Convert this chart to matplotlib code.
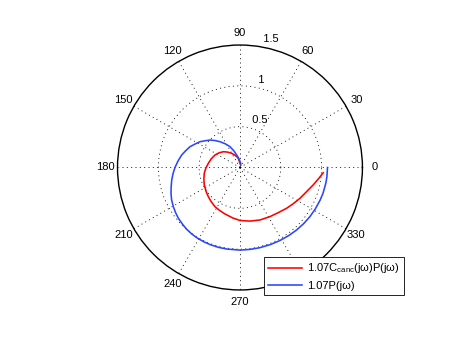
import numpy as np
import matplotlib
matplotlib.use("Agg")
import matplotlib.pyplot as plt

plt.rcParams["font.family"] = ["Liberation Sans", "DejaVu Sans"]
plt.rcParams["mathtext.fontset"] = "custom"
plt.rcParams["mathtext.rm"] = "Liberation Sans"

# 1.07 P(jw): angle (deg) and magnitude
p_ang = [0, -6, -10.4, -17.2, -22.1, -28.9, -35.1, -41.4, -47.8, -54.1, -61.1,
         -68.7, -76.1, -83, -90, -99.3, -105, -111.2, -116, -121.5, -126, -130.5,
         -135, -140.5, -145, -149.6, -155, -159.5, -164, -169.6, -175, -180,
         -186, -192.1, -197, -202.6, -207, -212.8, -217, -222.5, -227, -232.2,
         -238, -244.3, -250, -255.2, -265, -283]
p_mag = [1.072, 1.071, 1.069, 1.065, 1.060, 1.053, 1.047, 1.040, 1.033, 1.026, 1.020,
         1.015, 1.012, 1.011, 1.012, 1.012, 1.013, 1.013, 1.012, 1.010, 1.006, 1.000,
         0.990, 0.978, 0.963, 0.947, 0.925, 0.902, 0.877, 0.850, 0.822, 0.796,
         0.763, 0.730, 0.697, 0.663, 0.625, 0.583, 0.542, 0.498, 0.452, 0.400,
         0.343, 0.283, 0.215, 0.158, 0.100, 0.045]

# 1.07 C_canc(jw) P(jw)
c_ang = [-3.6, -8.4, -13.4, -19.9, -27.2, -34.2, -41.1, -49.7, -58.6, -69.1,
         -79.4, -90, -98, -107.9, -115, -122.5, -130, -137.4, -145, -153.9,
         -162, -170.8, -179, -187.5, -197, -206.6, -215, -223.4, -231, -239.7,
         -249, -259.5, -286]
c_mag = [1.022, 0.969, 0.922, 0.868, 0.826, 0.789, 0.759, 0.725, 0.705, 0.688,
         0.668, 0.649, 0.625, 0.598, 0.583, 0.569, 0.548, 0.527, 0.508, 0.487,
         0.465, 0.443, 0.418, 0.391, 0.367, 0.342, 0.313, 0.281, 0.243, 0.201,
         0.158, 0.115, 0.03]

theta_ticks = list(range(0, 360, 30))
r_ticks = [0.5, 1.0, 1.5]
r_max = 1.5

fig = plt.figure(figsize=(4.63, 3.48), dpi=100)
ax = fig.add_axes([0.2538, 0.1667, 0.529, 0.704], projection="polar")

dots = (0, (1.2, 4))
ax.plot(np.deg2rad(c_ang), c_mag, color="#ff0000", lw=1.15,
        label=r"1.07C$_{\rm canc}$(jω)P(jω)")
ax.plot(np.deg2rad(p_ang), p_mag, color="#2a46ff", lw=1.15, label="1.07P(jω)")

ax.set_ylim(0, r_max)
ax.set_thetagrids(theta_ticks, labels=[str(t) for t in theta_ticks], fontsize=8)
ax.set_rgrids(r_ticks[:-1], labels=["", ""])
ax.grid(True, color="k", lw=0.6, linestyle=dots)
ax.tick_params(axis="x", pad=1.5, size=0)
ax.spines["polar"].set_linewidth(1.0)
ax.spines["polar"].set_color("k")

# radial labels, placed like the MATLAB polar plot (at 82 deg)
for r in r_ticks:
    ax.text(np.deg2rad(82), r + 0.025, "  " + f"{r:g}", fontsize=8,
            ha="left", va="bottom")

leg = ax.legend(loc="upper left", bbox_to_anchor=(264 / 463, 1 - 257 / 348),
                bbox_transform=fig.transFigure, borderaxespad=0, fontsize=8,
                fancybox=False, edgecolor="k", framealpha=1, handlelength=3,
                handletextpad=0.5, labelspacing=0.5, borderpad=0.4)
leg.get_frame().set_linewidth(0.6)

fig.savefig("out.png", dpi=100)
